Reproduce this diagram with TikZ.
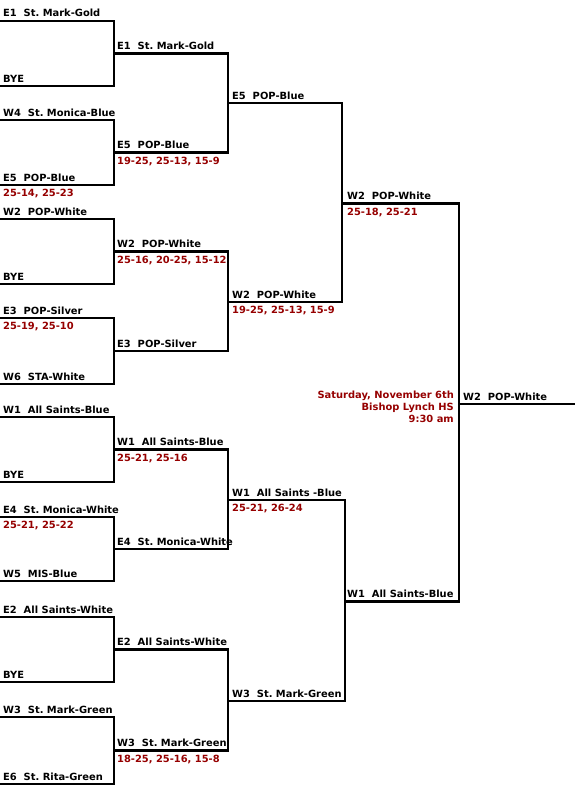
\documentclass[tikz,border=0pt]{standalone}
\usepackage{fontspec}
\setmainfont{DejaVu Sans}
\definecolor{scorered}{RGB}{150,0,0}
\newcommand{\teamfont}{\fontsize{9.9}{12}\selectfont\bfseries\frenchspacing}

\begin{document}
\begin{tikzpicture}[x=1pt, y=-1pt, font=\teamfont,
  team/.style={anchor=base west, inner sep=0pt},
  score/.style={team, text=scorered},
  bk/.style={line width=2.5pt}]
\useasboundingbox[fill=white] (0,0) rectangle (575,800);
% first round
\coordinate (a1) at (0,21);   \coordinate (a2) at (0,86);
\coordinate (a3) at (0,120);  \coordinate (a4) at (0,185);
\coordinate (a5) at (0,219);  \coordinate (a6) at (0,284);
\coordinate (a7) at (0,318);  \coordinate (a8) at (0,384);
\coordinate (a9) at (0,417);  \coordinate (a10) at (0,482);
\coordinate (a11) at (0,517); \coordinate (a12) at (0,581);
\coordinate (a13) at (0,617); \coordinate (a14) at (0,682);
\coordinate (a15) at (0,717); \coordinate (a16) at (0,784);
% second round
\coordinate (b1) at (114,53.5);  \coordinate (b2) at (114,152.5);
\coordinate (b3) at (114,251.5); \coordinate (b4) at (114,351);
\coordinate (b5) at (114,449.5); \coordinate (b6) at (114,549);
\coordinate (b7) at (114,649.5); \coordinate (b8) at (114,750.5);
% semis, finals
\coordinate (c1) at (228,103);   \coordinate (c2) at (228,302);
\coordinate (c3) at (228,500);   \coordinate (c4) at (228,701);
\coordinate (d1) at (342,203.5); \coordinate (d2) at (345,601.5);
\coordinate (champ) at (459,404);
\coordinate (tail) at (575,404);

\draw[bk] (a1) -| (b1) |- (a2);   \draw[bk] (a3) -| (b2) |- (a4);
\draw[bk] (a5) -| (b3) |- (a6);   \draw[bk] (a7) -| (b4) |- (a8);
\draw[bk] (a9) -| (b5) |- (a10);  \draw[bk] (a11) -| (b6) |- (a12);
\draw[bk] (a13) -| (b7) |- (a14); \draw[bk] (a15) -| (b8) |- (a16);
\draw[bk] (b1) -| (c1) |- (b2);   \draw[bk] (b3) -| (c2) |- (b4);
\draw[bk] (b5) -| (c3) |- (b6);   \draw[bk] (b7) -| (c4) |- (b8);
\draw[bk] (c1) -| (d1) |- (c2);   \draw[bk] (c3) -| (d2) |- (c4);
\draw[bk] (d1) -| (champ) |- (d2);
\draw[bk] (champ) -- (tail);

% team names
\node[team] (ta1) at ([shift={(3,-4)}]a1) {E1\ \ St. Mark-Gold};
\node[team] (ta2) at ([shift={(3,-4)}]a2) {BYE};
\node[team] (ta3) at ([shift={(3,-4)}]a3) {W4\ \ St. Monica-Blue};
\node[team] (ta4) at ([shift={(3,-4)}]a4) {E5\ \ POP-Blue};
\node[team] (ta5) at ([shift={(3,-4)}]a5) {W2\ \ POP-White};
\node[team] (ta6) at ([shift={(3,-4)}]a6) {BYE};
\node[team] (ta7) at ([shift={(3,-4)}]a7) {E3\ \ POP-Silver};
\node[team] (ta8) at ([shift={(3,-4)}]a8) {W6\ \ STA-White};
\node[team] (ta9) at ([shift={(3,-4)}]a9) {W1\ \ All Saints-Blue};
\node[team] (ta10) at ([shift={(3,-4)}]a10) {BYE};
\node[team] (ta11) at ([shift={(3,-4)}]a11) {E4\ \ St. Monica-White};
\node[team] (ta12) at ([shift={(3,-4)}]a12) {W5\ \ MIS-Blue};
\node[team] (ta13) at ([shift={(3,-4)}]a13) {E2\ \ All Saints-White};
\node[team] (ta14) at ([shift={(3,-4)}]a14) {BYE};
\node[team] (ta15) at ([shift={(3,-4)}]a15) {W3\ \ St. Mark-Green};
\node[team] (ta16) at ([shift={(3,-4)}]a16) {E6\ \ St. Rita-Green};
\node[team] (tb1) at ([shift={(3,-4)}]b1) {E1\ \ St. Mark-Gold};
\node[team] (tb2) at ([shift={(3,-4)}]b2) {E5\ \ POP-Blue};
\node[team] (tb3) at ([shift={(3,-4)}]b3) {W2\ \ POP-White};
\node[team] (tb4) at ([shift={(3,-4)}]b4) {E3\ \ POP-Silver};
\node[team] (tb5) at ([shift={(3,-4)}]b5) {W1\ \ All Saints-Blue};
\node[team] (tb6) at ([shift={(3,-4)}]b6) {E4\ \ St. Monica-White};
\node[team] (tb7) at ([shift={(3,-4)}]b7) {E2\ \ All Saints-White};
\node[team] (tb8) at ([shift={(3,-4)}]b8) {W3\ \ St. Mark-Green};
\node[team] (tc1) at ([shift={(4,-4)}]c1) {E5\ \ POP-Blue};
\node[team] (tc2) at ([shift={(4,-4)}]c2) {W2\ \ POP-White};
\node[team] (tc3) at ([shift={(4,-4)}]c3) {W1\ \ All Saints -Blue};
\node[team] (tc4) at ([shift={(4,-4)}]c4) {W3\ \ St. Mark-Green};
\node[team] (td1) at ([shift={(5,-4)}]d1) {W2\ \ POP-White};
\node[team] (td2) at ([shift={(2,-4)}]d2) {W1\ \ All Saints-Blue};
\node[team] (tchamp) at ([shift={(4,-4)}]champ) {W2\ \ POP-White};

% scores
\node[score] (sa4) at ([shift={(3,11.5)}]a4) {25-14, 25-23};
\node[score] (sa7) at ([shift={(3,11.5)}]a7) {25-19, 25-10};
\node[score] (sa11) at ([shift={(3,11.5)}]a11) {25-21, 25-22};
\node[score] (sb2) at ([shift={(3,11.5)}]b2) {19-25, 25-13, 15-9};
\node[score] (sb3) at ([shift={(3,11.5)}]b3) {25-16, 20-25, 15-12};
\node[score] (sb5) at ([shift={(3,11.5)}]b5) {25-21, 25-16};
\node[score] (sb8) at ([shift={(3,11.5)}]b8) {18-25, 25-16, 15-8};
\node[score] (sc2) at ([shift={(4,11.5)}]c2) {19-25, 25-13, 15-9};
\node[score] (sc3) at ([shift={(4,11.5)}]c3) {25-21, 26-24};
\node[score] (sd1) at ([shift={(5,11.5)}]d1) {25-18, 25-21};

\node[anchor=north east, align=right, inner sep=0pt, text=scorered] (date)
  at (454,390.5) {Saturday, November 6th\\Bishop Lynch HS\\9:30 am};
\end{tikzpicture}
\end{document}
